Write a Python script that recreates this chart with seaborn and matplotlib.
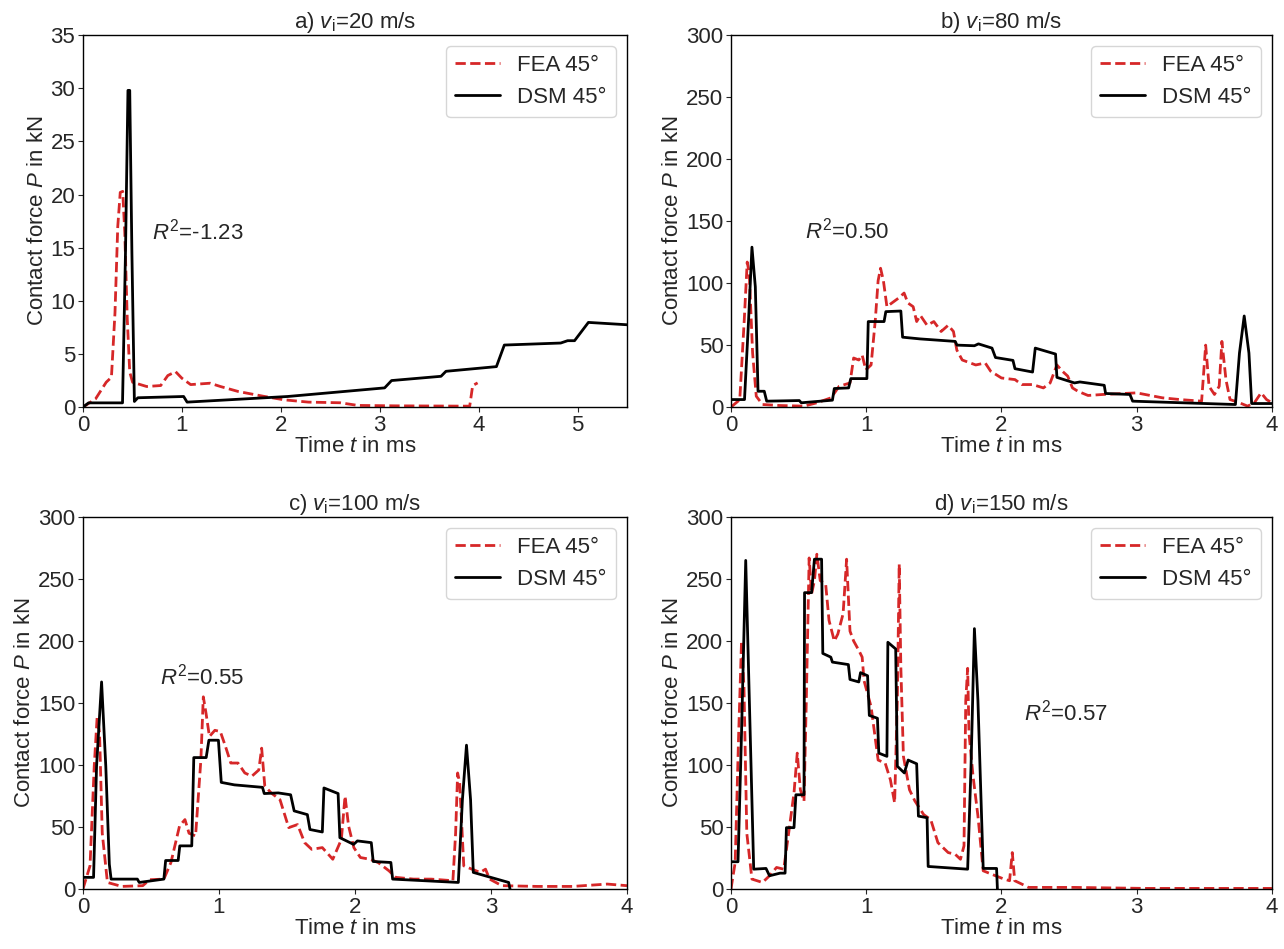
import numpy as np
import pandas as pd
import matplotlib
matplotlib.use("Agg")
import matplotlib.pyplot as plt
import seaborn as sns

# ---- data (time in ms, force in kN) ----
A_FEA_T = [0, 0.128, 0.235, 0.288, 0.324, 0.352, 0.377, 0.402, 0.423, 0.448, 0.473, 0.502, 0.644, 0.786,
           0.858, 0.936, 1.0, 1.089, 1.285, 1.39, 1.57, 1.82, 2.03, 2.28, 2.60, 2.78, 3.17, 3.91, 3.94, 3.99]
A_FEA_P = [0, 0.78, 2.34, 2.81, 8.9, 17.0, 20.2, 20.3, 16.4, 8.3, 3.3, 2.34, 1.94, 2.03,
           2.97, 3.34, 2.72, 2.12, 2.25, 1.94, 1.47, 1.03, 0.69, 0.47, 0.41, 0.16, 0.12, 0.09, 2.03, 2.28]
A_DSM_T = [0, 0.057, 0.40, 0.43, 0.455, 0.473, 0.495, 0.52, 0.555, 1.018, 1.053, 2.07, 3.05, 3.12,
           3.62, 3.67, 4.18, 4.26, 4.83, 4.90, 4.97, 5.11, 5.50]
A_DSM_P = [0, 0.4, 0.4, 14.5, 29.8, 29.8, 14.5, 0.53, 0.88, 1.0, 0.47, 1.0, 1.81, 2.5,
           2.9, 3.37, 3.81, 5.84, 6.03, 6.25, 6.25, 7.97, 7.75]

B_FEA_T = [0, 0.065, 0.098, 0.12, 0.135, 0.16, 0.187, 0.233, 0.36, 0.54, 0.635, 0.74, 0.80, 0.88, 0.907,
           0.945, 0.97, 0.997, 1.036, 1.067, 1.088, 1.106, 1.127, 1.153, 1.19, 1.24, 1.28, 1.308, 1.347,
           1.373, 1.40, 1.45, 1.50, 1.554, 1.606, 1.645, 1.67, 1.71, 1.81, 1.88, 1.92, 2.0, 2.10, 2.15,
           2.23, 2.31, 2.36, 2.41, 2.45, 2.49, 2.525, 2.565, 2.64, 2.75, 3.0, 3.19, 3.32, 3.48, 3.51,
           3.535, 3.575, 3.61, 3.63, 3.66, 3.69, 3.76, 3.82, 3.87, 3.92, 3.96, 4.0]
B_FEA_P = [0, 6, 70, 117, 108, 43.6, 8.8, 2.1, 1.3, 0.8, 3.5, 7.5, 16.8, 19.5, 39.6,
           38, 42, 30, 34, 70, 102, 112, 102, 81, 84, 88, 92, 84, 81,
           69, 74, 66, 69, 61, 66, 61, 46, 38, 34, 35.6, 29, 23.5, 22.2, 18.2,
           18.2, 15.5, 19.5, 34, 29, 25, 15.5, 12.8, 9.4, 10.2, 11.5, 7.5, 6.1, 4.8, 50,
           16.8, 10.2, 16.8, 53, 22.2, 6.1, 3.5, 0.8, 3.5, 11.5, 6.1, 3.5]
B_DSM_T = [0, 0.10, 0.13, 0.155, 0.18, 0.2, 0.246, 0.264, 0.505, 0.52, 0.75, 0.764, 0.87, 0.886, 1.005,
           1.015, 1.132, 1.145, 1.256, 1.269, 1.399, 1.658, 1.671, 1.80, 1.83, 1.93, 1.956, 2.085, 2.10,
           2.23, 2.25, 2.40, 2.41, 2.54, 2.58, 2.76, 2.77, 2.95, 2.97, 3.73, 3.76, 3.795, 3.83, 3.85, 4.0]
B_DSM_P = [6.1, 6.1, 70, 129, 97, 12.8, 12.8, 4.8, 5.3, 3.5, 5.6, 15, 15.5, 23, 23,
           69, 69, 77, 77.5, 56.4, 55, 53, 50, 49.5, 51, 47.6, 40, 37.7, 31,
           28.3, 47.6, 42.8, 24, 19.5, 20.3, 17.6, 11, 10.2, 4.8, 2.1, 43.6, 73.5, 43.6, 2.9, 2.9]

C_FEA_T = [0, 0.052, 0.083, 0.104, 0.122, 0.142, 0.18, 0.285, 0.44, 0.49, 0.595, 0.647, 0.71, 0.75, 0.78,
           0.828, 0.867, 0.885, 0.905, 0.93, 0.97, 1.01, 1.048, 1.087, 1.14, 1.19, 1.242, 1.293, 1.314,
           1.337, 1.384, 1.449, 1.513, 1.578, 1.63, 1.682, 1.76, 1.837, 1.90, 1.927, 1.953, 1.992, 2.04,
           2.11, 2.17, 2.25, 2.30, 2.43, 2.56, 2.72, 2.74, 2.755, 2.77, 2.80, 2.86, 2.92, 2.96, 2.99,
           3.08, 3.34, 3.60, 3.855, 4.0]
C_FEA_P = [0, 18.7, 99, 138, 126, 45, 5.3, 2.1, 2.7, 7.5, 8, 21.4, 50.8, 56, 45,
           42.8, 104, 155, 141.7, 123, 128, 127, 115, 101.6, 101.6, 93.6, 91, 96, 113.6,
           83, 77.5, 72, 49.5, 52, 37.4, 32, 33.4, 24, 40, 75, 50.8, 33.4, 25.4,
           24, 21.4, 14.7, 9.4, 8, 8, 6.7, 45, 93.6, 85.6, 18.7, 16, 13.4, 16, 8,
           2.7, 2.1, 2.1, 4, 2.7]
C_DSM_T = [0, 0.078, 0.10, 0.137, 0.168, 0.194, 0.207, 0.40, 0.414, 0.595, 0.608, 0.70, 0.712, 0.80, 0.815,
           0.906, 0.926, 0.996, 1.017, 1.113, 1.32, 1.333, 1.436, 1.527, 1.553, 1.65, 1.669, 1.76, 1.772,
           1.876, 1.889, 1.99, 2.018, 2.12, 2.134, 2.264, 2.277, 2.76, 2.79, 2.82, 2.85, 2.87, 3.13, 3.14]
C_DSM_P = [9.4, 9.4, 99, 167, 99, 20, 8, 8, 5.3, 8, 23, 23, 34.8, 34.8, 106,
           106, 120, 120, 86, 84, 82, 77, 77.5, 76, 63, 60, 48, 46, 81.5,
           77, 41.4, 36, 38.8, 37.4, 22.2, 21.4, 8, 5.3, 72, 116, 72, 13.4, 5.3, 0]

D_FEA_T = [0, 0.031, 0.057, 0.078, 0.096, 0.117, 0.155, 0.233, 0.285, 0.337, 0.39, 0.427, 0.466, 0.49,
           0.513, 0.54, 0.557, 0.578, 0.596, 0.617, 0.635, 0.66, 0.70, 0.725, 0.764, 0.79, 0.829, 0.855,
           0.88, 0.907, 0.945, 0.97, 0.984, 1.036, 1.088, 1.14, 1.179, 1.21, 1.23, 1.244, 1.256, 1.275,
           1.32, 1.36, 1.425, 1.477, 1.53, 1.606, 1.658, 1.697, 1.723, 1.736, 1.75, 1.76, 1.79, 1.826,
           1.865, 1.956, 2.02, 2.06, 2.08, 2.098, 2.15, 2.2, 2.54, 3.06, 4.0]
D_FEA_P = [0, 21.4, 126, 200, 163, 45, 8, 5.3, 10.7, 17.4, 16, 45.5, 77.5, 109.6,
           80, 70.8, 152, 267, 238, 248.7, 270, 248.7, 246, 216.6, 200, 205.6, 222, 266,
           208, 200, 192.5, 187, 168, 147, 104, 101.6, 88, 69.5, 152, 262, 179, 107,
           80, 71, 60, 56, 37.4, 29.4, 28, 24, 34.8, 152, 178, 125.7, 91, 59,
           14.7, 10.7, 8, 6.7, 29.4, 6.7, 4, 1.3, 1.3, 0.5, 0.5]
D_DSM_T = [0, 0.052, 0.078, 0.109, 0.142, 0.168, 0.259, 0.285, 0.363, 0.40, 0.41, 0.466, 0.48, 0.54, 0.544,
           0.596, 0.617, 0.67, 0.679, 0.738, 0.75, 0.868, 0.88, 0.945, 0.958, 1.01, 1.023, 1.083, 1.093,
           1.153, 1.16, 1.218, 1.23, 1.282, 1.31, 1.373, 1.386, 1.45, 1.458, 1.75, 1.775, 1.80, 1.826,
           1.865, 1.964, 1.97]
D_DSM_P = [22, 22, 126, 265, 126, 16, 16.6, 10.7, 12.8, 12.8, 49.5, 49.5, 76, 76, 239,
           239, 266, 266, 190, 187, 183, 181, 169, 167, 174.5, 172, 140, 137.7, 109.6,
           107, 199, 193.6, 99, 93.6, 104, 101, 58.8, 57.5, 18.2, 16, 99, 210, 152,
           16.6, 16.6, 0]

TITLES = ["a) $v_\\mathrm{i}$=20 m/s", "b) $v_\\mathrm{i}$=80 m/s",
          "c) $v_\\mathrm{i}$=100 m/s", "d) $v_\\mathrm{i}$=150 m/s"]
R2_LABELS = ["$R^2$=-1.23", "$R^2$=0.50", "$R^2$=0.55", "$R^2$=0.57"]
R2_POS = [(0.70, 16.5), (0.55, 142), (0.57, 171), (2.17, 142)]
X_MAX = [5.5, 4, 4, 4]
Y_MAX = [35, 300, 300, 300]
Y_STEP = [5, 50, 50, 50]

PANELS = [
    (A_FEA_T, A_FEA_P, A_DSM_T, A_DSM_P),
    (B_FEA_T, B_FEA_P, B_DSM_T, B_DSM_P),
    (C_FEA_T, C_FEA_P, C_DSM_T, C_DSM_P),
    (D_FEA_T, D_FEA_P, D_DSM_T, D_DSM_P),
]

FS = 16

sns.set_style("ticks")
plt.rcParams["font.family"] = ["Liberation Sans", "DejaVu Sans"]
plt.rcParams["mathtext.fontset"] = "custom"
plt.rcParams["mathtext.rm"] = "Liberation Sans"
plt.rcParams["mathtext.it"] = "Liberation Sans:italic"
plt.rcParams["font.size"] = FS

fig = plt.figure(figsize=(12.84, 9.49), dpi=100)
boxes = [
    [0.0646, 0.571, 0.4237, 0.392],
    [0.5693, 0.571, 0.4213, 0.392],
    [0.0646, 0.0632, 0.4237, 0.392],
    [0.5693, 0.0632, 0.4213, 0.392],
]

for i, (ft, fp, dt, dp) in enumerate(PANELS):
    ax = fig.add_axes(boxes[i])
    fea = pd.DataFrame({"t": ft, "P": fp})
    dsm = pd.DataFrame({"t": dt, "P": dp})
    sns.lineplot(data=fea, x="t", y="P", ax=ax, color="#d62728", linestyle="--",
                 linewidth=2, label="FEA 45°", estimator=None, sort=False)
    sns.lineplot(data=dsm, x="t", y="P", ax=ax, color="black", linestyle="-",
                 linewidth=2, label="DSM 45°", estimator=None, sort=False)
    ax.set_xlim(0, X_MAX[i])
    ax.set_ylim(0, Y_MAX[i])
    ax.set_xticks(np.arange(0, int(X_MAX[i]) + 1, 1))
    ax.set_yticks(np.arange(0, Y_MAX[i] + 1, Y_STEP[i]))
    ax.tick_params(labelsize=FS, pad=2)
    ax.set_title(TITLES[i], fontsize=FS, pad=4)
    ax.set_xlabel("Time $t$ in ms", fontsize=FS, labelpad=0)
    ax.set_ylabel("Contact force $P$ in kN", fontsize=FS, labelpad=2)
    ax.text(R2_POS[i][0], R2_POS[i][1], R2_LABELS[i], fontsize=FS, va="center", ha="left")
    ax.legend(loc="upper right", fontsize=FS, frameon=True)
    for s in ax.spines.values():
        s.set_linewidth(1.0)
        s.set_color("black")

fig.savefig("out.png", dpi=100)
